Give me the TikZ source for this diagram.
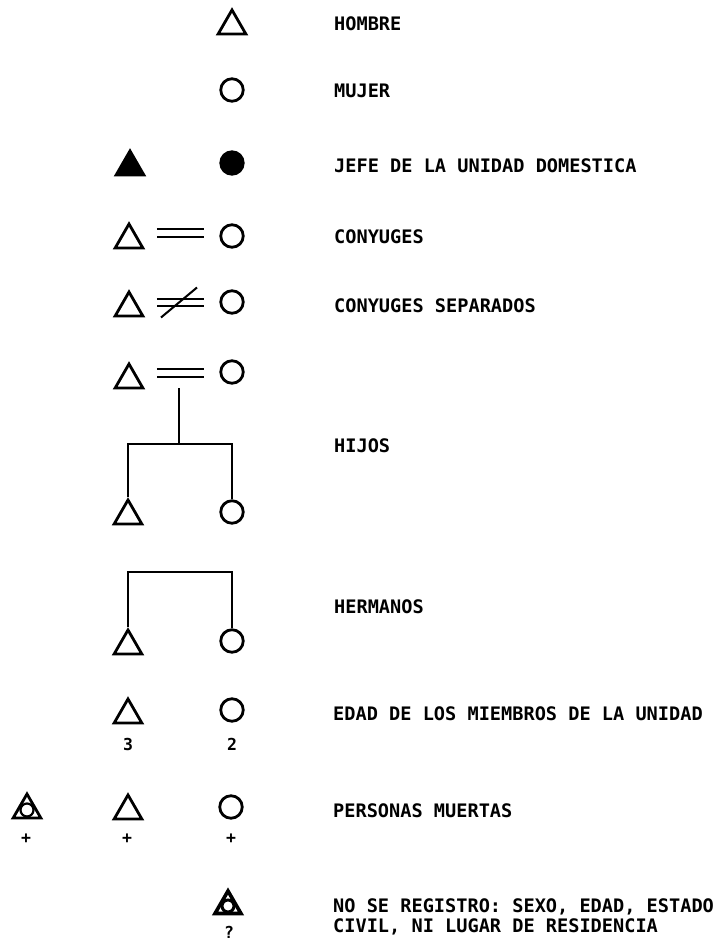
\documentclass[tikz,border=0pt]{standalone}
\usepackage{fontspec}
\newfontfamily\legendfont{DejaVu Sans Mono}
\usetikzlibrary{shapes.geometric}
\tikzset{>=latex}
\tikzset{
  man/.style={draw, regular polygon, regular polygon sides=3, minimum size=32pt, inner sep=0pt, line width=2.8pt},
  woman/.style={draw, circle, minimum size=22.5pt, inner sep=0pt, line width=2.8pt},
  head/.style={fill=black},
  dead/.style={draw, circle, minimum size=13pt, inner sep=0pt, line width=2.2pt},
  spouse/.style={double, double distance=5.4pt, line width=2pt, shorten <=17pt, shorten >=15pt},
  kin/.style={line width=2.3pt},
  legend/.style={anchor=base west, inner sep=0pt, font=\legendfont\bfseries\fontsize{18.6}{20.5}\selectfont},
  age/.style={inner sep=0pt, font=\legendfont\bfseries\fontsize{16.5}{18}\selectfont},
}

\begin{document}
\begin{tikzpicture}[x=1pt, y=-1pt]
            \useasboundingbox (0,0) rectangle (715,942);

            \node[man] (t1) at (232,26) {};
            \node[legend] (l1) at (334,31) {HOMBRE};

            \node[woman] (c2) at (232,90) {};
            \node[legend] (l2) at (334,97) {MUJER};

            \node[man, head] (t3) at (130,167) {};
            \node[woman, head] (c3) at (232,163) {};
            \node[legend] (l3) at (334,172) {JEFE DE LA UNIDAD DOMESTICA};

            \node[man] (t4) at (129,240) {};
            \node[woman] (c4) at (232,236) {};
            \coordinate (m4) at (180,233);
            \draw[spouse] (t4.east |- m4) -- (c4.west |- m4);
            \node[legend] (l4) at (334,243) {CONYUGES};

            \node[man] (t5) at (129,308) {};
            \node[woman] (c5) at (232,302) {};
            \coordinate (m5) at (179,302.5);
            \draw[spouse] (t5.east |- m5) -- (c5.west |- m5);
            \draw[kin, line width=2pt] (m5) ++(-18,15) -- ++(36,-30);
            \node[legend] (l5) at (334,312) {CONYUGES SEPARADOS};

            \node[man] (t6) at (129,380) {};
            \node[woman] (c6) at (232,372) {};
            \coordinate (m6) at (179,373);
            \draw[spouse] (t6.east |- m6) -- (c6.west |- m6);
            \node[man] (t7) at (128,516) {};
            \node[woman] (c7) at (232,512) {};
            \coordinate (h7) at (179,444);
            \draw[kin] (m6) ++(0,15) -- (h7);
            \draw[kin] (t7.north) |- (h7) -| (c7.north);
            \node[legend] (l7) at (334,452) {HIJOS};

            \node[man] (t8) at (128,646) {};
            \node[woman] (c8) at (232,641) {};
            \coordinate (h8) at (180,572);
            \draw[kin] (t8.north) |- (h8) -| (c8.north);
            \node[legend] (l8) at (334,613) {HERMANOS};

            \node[man] (t9) at (128,715) {};
            \node[woman] (c9) at (232,710) {};
            \node[age] (a9) at (128,744) {3};
            \node[age] (b9) at (232,744) {2};
            \node[legend] (l9) at (333,720) {EDAD DE LOS MIEMBROS DE LA UNIDAD};

            \node[man] (x10) at (27,810) {};
            \node[dead] (i10) at (x10) {};
            \node[man] (t10) at (128,811) {};
            \node[woman] (c10) at (231,807) {};
            \node[age] (p1) at (26,839) {+};
            \node[age] (p2) at (127,839) {+};
            \node[age] (p3) at (231,839) {+};
            \node[legend] (l10) at (333,817) {PERSONAS MUERTAS};

            \node[man, line width=3.6pt, minimum size=30pt] (x11) at (228,906) {};
            \node[dead, minimum size=12pt, line width=3pt] (i11) at (x11) {};
            \node[age] (q11) at (229,932) {?};
            \node[legend, anchor=north west, align=left] (l11) at (333,898) {NO SE REGISTRO: SEXO, EDAD, ESTADO\\CIVIL, NI LUGAR DE RESIDENCIA};
        \end{tikzpicture}
\end{document}
